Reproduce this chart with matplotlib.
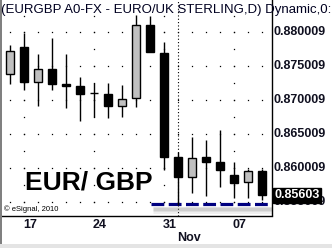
import matplotlib
matplotlib.use('Agg')
import matplotlib.pyplot as plt
import matplotlib.transforms as mtransforms
from matplotlib.patches import Rectangle

plt.rcParams['font.family'] = ['Liberation Sans', 'DejaVu Sans']

# daily EUR/GBP candles, 14 Oct .. 9 Nov 2010
opens = [0.8739, 0.8778, 0.8727, 0.8746, 0.87242, 0.87217, 0.87112, 0.87095, 0.86923, 0.87032,
         0.88111, 0.87695, 0.86172, 0.85868, 0.8616, 0.86094, 0.85898, 0.85792, 0.85958]
highs = [0.8782, 0.8800, 0.8768, 0.8792, 0.8768, 0.87341, 0.87253, 0.87262, 0.87228, 0.88259,
         0.88244, 0.87865, 0.86245, 0.86462, 0.86425, 0.86572, 0.86094, 0.85988, 0.85988]
lows = [0.8724, 0.8716, 0.8692, 0.8716, 0.86893, 0.86702, 0.86752, 0.86737, 0.86752, 0.86908,
        0.87718, 0.85976, 0.8546, 0.85644, 0.85597, 0.8573, 0.85563, 0.85566, 0.85534]
closes = [0.8773, 0.8727, 0.8746, 0.8724, 0.87217, 0.87095, 0.87108, 0.86923, 0.87017, 0.88111,
          0.87718, 0.86172, 0.85868, 0.86153, 0.86101, 0.85983, 0.85787, 0.85958, 0.85603]

week_labels = ['17', '24', '31', '07']
friday_idx = [1, 6, 11, 16]
month_start_idx = 12
month_label = 'Nov'
price_levels = [0.855009, 0.860009, 0.865009, 0.870009, 0.875009, 0.880009]
last_price = 0.85603
support_level = 0.85475
support_start = 10.1

W, H = 332, 248
fig = plt.figure(figsize=(W / 100, H / 100), dpi=100)
ax = fig.add_axes([0, (H - 215.5) / H, 272 / W, 215.5 / H])
ax.set_xlim(-10 / 14, 262 / 14)
ax.set_ylim(0.853058, 0.884795)

n = len(opens)
xs = list(range(n))

# grid dots
for lev in price_levels:
    ax.plot(xs, [lev] * n, 's', ms=0.9, mew=0, color='black', zorder=1)
half_levels = [price_levels[0] + 0.0025 * k for k in range(12)]
for fi in friday_idx:
    ax.plot([fi] * len(half_levels), half_levels, 's', ms=0.9, mew=0, color='black', zorder=1)
ax.axvline(month_start_idx, color='black', lw=0.8, ls=(0, (1, 2)), zorder=1)

# support line with soft shadow
for off, lw, a in [(0.0009, 5, 0.12), (0.0008, 3.5, 0.15), (0.0007, 2, 0.18)]:
    ax.plot([support_start + 0.1, 20], [support_level - off] * 2, color='#808080', lw=lw,
            alpha=a, zorder=2, solid_capstyle='butt')
ax.plot([support_start, 20], [support_level] * 2, color='#000080', lw=2.3,
        dashes=(4, 1.4), zorder=3)

# candles
ax.vlines(xs, lows, highs, color='black', lw=1.0, zorder=4)
for i in xs:
    o, c = opens[i], closes[i]
    up = c > o
    bottom = min(o, c)
    height = max(abs(c - o), 0.00004)
    ax.add_patch(Rectangle((i - 0.29, bottom), 0.58, height,
                           facecolor='#c0c0c0' if up else 'black',
                           edgecolor='black', lw=1.0, zorder=5))

for side in ['left', 'top']:
    ax.spines[side].set_visible(False)
ax.spines['bottom'].set_linewidth(1.0)
ax.spines['right'].set_linewidth(1.0)

ax.set_yticks([])
ax.set_xticks([f + 0.42 for f in friday_idx])
ax.set_xticklabels(week_labels, fontsize=9, fontweight='bold', color='#101020')
ax.tick_params(axis='x', length=0, pad=2.5)
ax.text(month_start_idx - 0.05, -0.105, month_label,
        transform=mtransforms.blended_transform_factory(ax.transData, ax.transAxes),
        fontsize=9, fontweight='bold', color='#101020', ha='left', va='center', clip_on=False)

# price labels on the right
trans = mtransforms.blended_transform_factory(ax.transAxes, ax.transData)
for lev in price_levels:
    ax.text(1.004, lev, '%.6f' % lev, transform=trans, fontsize=9, fontweight='bold',
            color='#101020', ha='left', va='center', clip_on=False, zorder=6)
ax.text(1.008, last_price, '%.5f' % last_price, transform=trans, fontsize=9, fontweight='bold',
        color='white', ha='left', va='center', clip_on=False, zorder=10,
        bbox=dict(boxstyle='square,pad=0.1', facecolor='black', edgecolor='black'))

# texts
fig.text(1 / W, (H - 12.7) / H, '(EURGBP A0-FX - EURO/UK STERLING,D) Dynamic,0:',
         fontsize=9.5, color='#000020', ha='left', va='baseline')
fig.text(25 / W, (H - 189) / H, 'EUR/ GBP', fontsize=19, fontweight='bold',
         color='black', ha='left', va='baseline')
fig.text(4 / W, (H - 211) / H, '\u00a9 eSignal, 2010', fontsize=5.5,
         color='black', ha='left', va='baseline')

# window borders
fig.add_artist(Rectangle((0, 0), 2 / W, 1, transform=fig.transFigure,
                         facecolor='#808080', edgecolor='none'))
fig.add_artist(Rectangle((0, 0), 1, 4 / H, transform=fig.transFigure,
                         facecolor='#e4e4e4', edgecolor='none'))

fig.savefig('out.png', dpi=100)
